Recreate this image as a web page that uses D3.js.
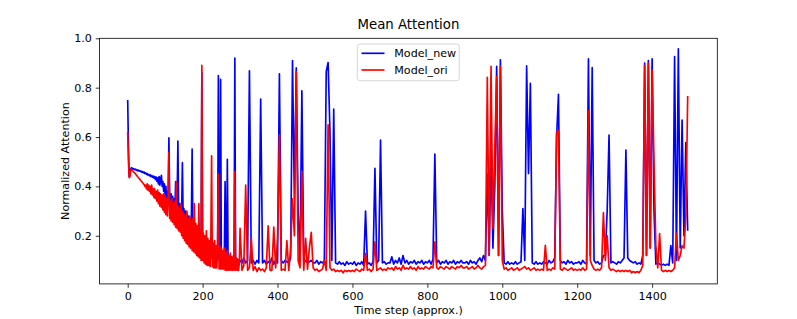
<!DOCTYPE html>
<html>
<head>
<meta charset="utf-8">
<script src="https://cdn.jsdelivr.net/npm/d3@7"></script>
<style>
  body { margin: 0; background: #fff; }
  svg { display: block; font-family: "DejaVu Sans", sans-serif; }
</style>
</head>
<body>
<div class="panel"></div>
<script>
// values
// steps 0..298 sampled every 2, steps 300..1495 sampled every 5
const earlyStep = 2;
const lateStart = 300;
const lateStep = 5;

const newEarly = [
  .75,.56,.44,.455,.47,.476,.474,.47,.472,.468,.47,.466,.468,.463,.466,.462,.464,.46,.462,.457,.46,.455,.458,.452,.455,
  .449,.452,.446,.449,.443,.447,.44,.444,.437,.442,.434,.44,.428,.438,.42,.435,.41,.44,.405,.43,.445,.40,.42,.38,.41,
  .36,.40,.34,.38,.35,.597,.36,.33,.37,.32,.36,.31,.35,.30,.42,.31,.34,.584,.30,.33,.29,.32,.28,.496,.27,
  .31,.26,.30,.25,.29,.24,.28,.23,.27,.22,.26,.551,.21,.25,.20,.24,.19,.23,.18,.22,.17,.21,.16,.20,.86,
  .15,.19,.14,.18,.13,.17,.125,.16,.12,.155,.115,.15,.11,.14,.11,.135,.105,.13,.105,.125,.10,.849,.12,.10,.834,
  .11,.10,.12,.10,.115,.42,.10,.12,.51,.10,.115,.095,.11,.10,.115,.095,.11,.10,.92,.10,.11,.095,.105,.09,.10
];

const newLate = [
  .10,.09,.11,.09,.10,.868,.09,.10,.085,.10,.09,.754,.09,.10,.085,.095,.09,.11,.085,.10,
  .09,.856,.10,.09,.10,.095,.09,.11,.91,.35,.88,.30,.10,.787,.09,.10,.09,.095,.10,.09,
  .09,.10,.085,.095,.09,.10,.865,.902,.62,.10,.713,.09,.085,.095,.085,.09,.08,.095,.085,.09,
  .085,.095,.08,.09,.085,.095,.08,.30,.085,.09,.08,.095,.473,.09,.10,.588,.09,.095,.085,.09,
  .09,.115,.085,.10,.09,.11,.085,.12,.09,.10,.085,.095,.09,.10,.085,.095,.09,.10,.085,.095,
  .09,.10,.085,.105,.531,.09,.10,.085,.095,.09,.10,.085,.095,.09,.10,.085,.095,.09,.10,.09,
  .09,.095,.085,.10,.09,.095,.085,.10,.11,.095,.12,.10,.45,.12,.55,.15,.40,.886,.12,.913,
  .303,.09,.085,.095,.085,.09,.085,.095,.085,.09,.095,.31,.10,.888,.452,.818,.09,.085,.095,.085,
  .09,.085,.095,.09,.085,.10,.09,.095,.11,.60,.773,.10,.09,.095,.085,.10,.09,.095,.085,.09,
  .09,.095,.085,.10,.09,.085,.917,.12,.881,.10,.09,.095,.085,.09,.12,.12,.30,.608,.09,.095,
  .09,.085,.095,.09,.10,.11,.547,.11,.10,.095,.09,.095,.085,.09,.085,.12,.90,.12,.91,.15,
  .917,.30,.085,.09,.085,.08,.085,.08,.085,.08,.16,.09,.926,.10,.957,.15,.669,.20,.578,.22
];

const oriEarly = [
  .62,.50,.435,.44,.465,.47,.466,.462,.458,.455,.452,.448,.445,.44,.437,.433,.43,.425,.422,.418,.415,.41,.408,.40,.405,
  .39,.41,.385,.405,.38,.40,.37,.405,.365,.39,.355,.39,.35,.38,.34,.385,.33,.375,.32,.37,.315,.365,.305,.37,.295,
  .36,.285,.35,.28,.36,.538,.27,.34,.26,.35,.255,.33,.245,.34,.235,.42,.23,.32,.22,.31,.215,.33,.20,.30,.19,
  .29,.18,.28,.17,.30,.165,.27,.155,.28,.15,.26,.14,.27,.135,.33,.13,.25,.12,.24,.115,.33,.11,.22,.10,.89,
  .10,.21,.09,.20,.085,.22,.08,.19,.08,.18,.075,.19,.524,.075,.17,.07,.18,.07,.16,.07,.17,.45,.065,.16,.065,
  .15,.065,.14,.065,.15,.06,.13,.06,.14,.06,.12,.06,.13,.06,.11,.06,.12,.06,.46,.06,.11,.06,.10,.06,.09
];

const oriLate = [
  .23,.06,.08,.405,.06,.07,.19,.06,.075,.055,.07,.06,.065,.055,.07,.24,.06,.06,.235,.07,
  .19,.608,.06,.065,.06,.18,.06,.15,.35,.20,.865,.10,.07,.46,.06,.19,.065,.15,.214,.07,
  .06,.065,.055,.06,.065,.10,.06,.649,.07,.06,.065,.055,.06,.055,.06,.05,.06,.055,.06,.055,
  .06,.055,.065,.06,.055,.065,.06,.128,.06,.065,.055,.065,.175,.06,.065,.07,.06,.065,.06,.07,
  .065,.07,.06,.075,.065,.07,.06,.08,.065,.07,.065,.075,.065,.07,.06,.075,.065,.07,.065,.075,
  .07,.065,.075,.07,.175,.07,.065,.075,.07,.065,.075,.07,.065,.075,.07,.065,.075,.07,.08,.07,
  .07,.075,.065,.07,.075,.065,.07,.08,.07,.065,.075,.08,.842,.12,.886,.23,.554,.845,.12,.886,
  .10,.065,.07,.06,.065,.07,.06,.065,.07,.06,.065,.07,.075,.065,.07,.06,.065,.07,.06,.065,
  .06,.065,.06,.161,.06,.065,.06,.07,.065,.621,.625,.065,.06,.07,.065,.06,.065,.07,.06,.065,
  .06,.065,.06,.07,.06,.065,.706,.10,.08,.065,.06,.065,.06,.07,.294,.10,.20,.07,.06,.065,
  .06,.055,.06,.055,.06,.055,.06,.055,.06,.05,.055,.05,.055,.05,.06,.08,.89,.12,.90,.15,
  .87,.50,.16,.07,.209,.06,.055,.06,.055,.06,.055,.06,.07,.21,.10,.12,.16,.15,.28,.766
];

const xTicks = [0, 200, 400, 600, 800, 1000, 1200, 1400];
const yTicks = [0.2, 0.4, 0.6, 0.8, 1.0];
const seriesNames = ["Model_new", "Model_ori"];
const seriesColors = ["#0000ff", "#ff0000"];

function toPoints(early, late) {
  return early.map((v, i) => [i * earlyStep, v])
    .concat(late.map((v, i) => [lateStart + i * lateStep, v]));
}
const series = [toPoints(newEarly, newLate), toPoints(oriEarly, oriLate)];

const width = 797;
const height = 319;
const mLeft = 99.6, mRight = 717.3, mTop = 38.3, mBottom = 283.9;
const fs = 11.1;

const svg = d3.select(".panel")
  .append("svg")
  .attr("width", width)
  .attr("height", height);

const xScale = d3.scaleLinear().domain([-75, 1574]).range([mLeft, mRight]);
const yScale = d3.scaleLinear().domain([0.005, 1.0]).range([mBottom, mTop]);

svg.append("clipPath").attr("id", "clip")
  .append("rect")
  .attr("x", mLeft).attr("y", mTop)
  .attr("width", mRight - mLeft).attr("height", mBottom - mTop);

const line = d3.line()
  .x(d => xScale(d[0]))
  .y(d => yScale(d[1]));

const plot = svg.append("g").attr("clip-path", "url(#clip)");
series.forEach((pts, k) => {
  plot.append("path")
    .datum(pts)
    .attr("fill", "none")
    .attr("stroke", seriesColors[k])
    .attr("stroke-width", 1.67)
    .attr("stroke-linejoin", "round")
    .attr("d", line);
});

const xAxis = d3.axisBottom(xScale).tickValues(xTicks).tickSize(3.9).tickPadding(3.9).tickFormat(d3.format("d"));
const yAxis = d3.axisLeft(yScale).tickValues(yTicks).tickSize(3.9).tickPadding(3.9).tickFormat(d3.format(".1f"));

const gx = svg.append("g")
  .attr("transform", `translate(0, ${mBottom})`)
  .call(xAxis);
const gy = svg.append("g")
  .attr("transform", `translate(${mLeft}, 0)`)
  .call(yAxis);

[gx, gy].forEach(g => {
  g.select(".domain").remove();
  g.selectAll("line").attr("stroke", "#000").attr("stroke-width", 0.8);
  g.selectAll("text").attr("fill", "#000").style("font-size", fs + "px")
    .style("font-family", "'DejaVu Sans', sans-serif");
});

// frame
svg.append("rect")
  .attr("x", mLeft).attr("y", mTop)
  .attr("width", mRight - mLeft).attr("height", mBottom - mTop)
  .attr("fill", "none").attr("stroke", "#000").attr("stroke-width", 0.8);

svg.append("text")
  .attr("x", (mLeft + mRight) / 2).attr("y", 29)
  .attr("text-anchor", "middle")
  .style("font-size", "13.3px")
  .text("Mean Attention");

svg.append("text")
  .attr("x", (mLeft + mRight) / 2).attr("y", 314)
  .attr("text-anchor", "middle")
  .style("font-size", fs + "px")
  .text("Time step (approx.)");

svg.append("text")
  .attr("transform", `translate(68.5, ${(mTop + mBottom) / 2}) rotate(-90)`)
  .attr("text-anchor", "middle")
  .style("font-size", fs + "px")
  .text("Normalized Attention");

// legend
const legend = svg.append("g");
legend.append("rect")
  .attr("x", 357.3).attr("y", 44)
  .attr("width", 102).attr("height", 36.7)
  .attr("rx", 2.5)
  .attr("fill", "#fff").attr("fill-opacity", 0.8)
  .attr("stroke", "#cccccc").attr("stroke-width", 0.8);

seriesNames.forEach((name, k) => {
  const yy = 53.3 + k * 16.7;
  legend.append("line")
    .attr("x1", 361.5).attr("x2", 384.5)
    .attr("y1", yy).attr("y2", yy)
    .attr("stroke", seriesColors[k]).attr("stroke-width", 1.67);
  legend.append("text")
    .attr("x", 394.3).attr("y", yy + 4)
    .style("font-size", fs + "px")
    .text(name);
});
</script>
</body>
</html>
